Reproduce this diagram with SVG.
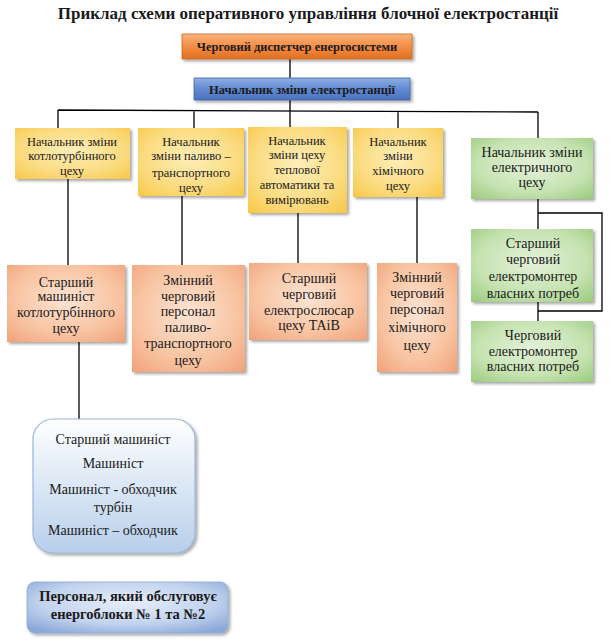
<svg xmlns="http://www.w3.org/2000/svg" width="614" height="640" viewBox="0 0 614 640">
<defs>
<linearGradient id="gOr" x1="0" y1="0" x2="0" y2="1"><stop offset="0" stop-color="#f9b27a"/><stop offset="0.5" stop-color="#f48d45"/><stop offset="1" stop-color="#e0701e"/></linearGradient>
<linearGradient id="gBl" x1="0" y1="0" x2="0" y2="1"><stop offset="0" stop-color="#8fb0e3"/><stop offset="0.5" stop-color="#6189d2"/><stop offset="1" stop-color="#4a73c0"/></linearGradient>
<radialGradient id="gYe" cx="0.5" cy="0.45" r="0.75"><stop offset="0" stop-color="#fdeeb8"/><stop offset="0.6" stop-color="#fbdb80"/><stop offset="1" stop-color="#f7c743"/></radialGradient>
<radialGradient id="gSa" cx="0.5" cy="0.45" r="0.75"><stop offset="0" stop-color="#fde4d3"/><stop offset="0.6" stop-color="#f8c3a1"/><stop offset="1" stop-color="#f0a077"/></radialGradient>
<radialGradient id="gGr" cx="0.5" cy="0.45" r="0.75"><stop offset="0" stop-color="#e4f1da"/><stop offset="0.6" stop-color="#c5e2b0"/><stop offset="1" stop-color="#99c97b"/></radialGradient>
<linearGradient id="gLb" x1="0" y1="0" x2="0" y2="1"><stop offset="0" stop-color="#ffffff"/><stop offset="1" stop-color="#b7cfeb"/></linearGradient>
<radialGradient id="gPb" cx="0.5" cy="0.4" r="0.7"><stop offset="0" stop-color="#e7eef9"/><stop offset="0.6" stop-color="#c2d3ee"/><stop offset="1" stop-color="#8aa8d8"/></radialGradient>
<filter id="sh" x="-10%" y="-10%" width="130%" height="140%"><feDropShadow dx="2" dy="2" stdDeviation="1.5" flood-color="#000" flood-opacity="0.35"/></filter>
</defs>
<style>
text{font-family:"Liberation Serif","DejaVu Serif",serif;fill:#1a1a1a;text-anchor:middle}
.title{font-size:17px;font-weight:bold}
.hd{font-size:12.5px;font-weight:bold}
.t1{font-size:12.5px}
.t2{font-size:14px}
.t3{font-size:14px}
.tb{font-size:14.5px;font-weight:bold}
.box{filter:url(#sh)}
.c{fill:none;stroke:#000;stroke-width:1.3}
</style>
<text class="title" x="308" y="19">Приклад схеми оперативного управління блочної електростанції</text>

<g id="connectors">
<path class="c" d="M290 59V78M290 100V111M58 110L538 112M58 110V128M194 110.5V128M290 111V127M398 111.5V128M538 112V138M68 179V265M182 196V265M298 213V263M417 197V263M538 199V229M538 302V321M538 213H602V311H538M79 342V419"/>
</g>

<g id="n-dispatcher"><rect class="box" x="182" y="34" width="230" height="25" fill="url(#gOr)" stroke="#c86a2a" stroke-width="0.8"/><text class="hd" x="297" y="51">Черговий диспетчер енергосистеми</text></g>
<g id="n-chief"><rect class="box" x="194" y="78" width="216" height="22" fill="url(#gBl)" stroke="#3d63a8" stroke-width="0.8"/><text class="hd" x="302" y="94">Начальник зміни електростанції</text></g>

<g id="n-ktc"><rect class="box" x="15" y="128" width="115" height="51" fill="url(#gYe)"/><text class="t1" x="72" y="146">Начальник зміни</text><text class="t1" x="72" y="160">котлотурбінного</text><text class="t1" x="72" y="175">цеху</text></g>
<g id="n-ptc"><rect class="box" x="138" y="128" width="106" height="68" fill="url(#gYe)"/><text class="t1" x="191" y="146">Начальник</text><text class="t1" x="191" y="160">зміни паливо –</text><text class="t1" x="191" y="177">транспортного</text><text class="t1" x="191" y="192">цеху</text></g>
<g id="n-tai"><rect class="box" x="248" y="127" width="99" height="86" fill="url(#gYe)"/><text class="t1" x="297" y="145">Начальник</text><text class="t1" x="297" y="159">зміни цеху</text><text class="t1" x="297" y="174">теплової</text><text class="t1" x="297" y="189">автоматики та</text><text class="t1" x="297" y="204">вимірювань</text></g>
<g id="n-hc"><rect class="box" x="353" y="128" width="90" height="69" fill="url(#gYe)"/><text class="t1" x="398" y="146">Начальник</text><text class="t1" x="398" y="160">зміни</text><text class="t1" x="398" y="175">хімічного</text><text class="t1" x="398" y="190">цеху</text></g>
<g id="n-ec"><rect class="box" x="471" y="138" width="122" height="61" fill="url(#gGr)"/><text class="t3" x="532" y="157">Начальник зміни</text><text class="t3" x="532" y="172">електричного</text><text class="t3" x="532" y="187">цеху</text></g>

<g id="n-sm"><rect class="box" x="7" y="265" width="118" height="77" fill="url(#gSa)"/><text class="t2" x="66" y="287">Старший</text><text class="t2" x="66" y="301">машиніст</text><text class="t2" x="66" y="317">котлотурбінного</text><text class="t2" x="66" y="333">цеху</text></g>
<g id="n-pp"><rect class="box" x="132" y="265" width="113" height="107" fill="url(#gSa)"/><text class="t2" x="188" y="285">Змінний</text><text class="t2" x="188" y="301">черговий</text><text class="t2" x="188" y="316">персонал</text><text class="t2" x="188" y="332">паливо-</text><text class="t2" x="188" y="348">транспортного</text><text class="t2" x="188" y="365">цеху</text></g>
<g id="n-es"><rect class="box" x="249" y="263" width="118" height="77" fill="url(#gSa)"/><text class="t2" x="309" y="283">Старший</text><text class="t2" x="309" y="299">черговий</text><text class="t2" x="309" y="315">електрослюсар</text><text class="t2" x="309" y="330">цеху ТАіВ</text></g>
<g id="n-hp"><rect class="box" x="377" y="263" width="80" height="109" fill="url(#gSa)"/><text class="t2" x="417" y="282">Змінний</text><text class="t2" x="417" y="298">черговий</text><text class="t2" x="417" y="314">персонал</text><text class="t2" x="417" y="332">хімічного</text><text class="t2" x="417" y="350">цеху</text></g>
<g id="n-sem"><rect class="box" x="471" y="229" width="122" height="73" fill="url(#gGr)"/><text class="t3" x="533" y="248">Старший</text><text class="t3" x="533" y="264">черговий</text><text class="t3" x="533" y="281">електромонтер</text><text class="t3" x="533" y="298">власних потреб</text></g>
<g id="n-em"><rect class="box" x="471" y="321" width="122" height="61" fill="url(#gGr)"/><text class="t3" x="533" y="340">Черговий</text><text class="t3" x="533" y="356">електромонтер</text><text class="t3" x="533" y="371">власних потреб</text></g>

<g id="n-machinists"><rect class="box" x="33" y="419" width="162" height="134" rx="20" fill="url(#gLb)" stroke="#9bb5da" stroke-width="1.2"/><text class="t3" x="113" y="444">Старший машиніст</text><text class="t3" x="113" y="468">Машиніст</text><text class="t3" x="113" y="494">Машиніст - обходчик</text><text class="t3" x="113" y="512">турбін</text><text class="t3" x="113" y="535">Машиніст – обходчик</text></g>
<g id="n-legend"><rect class="box" x="27" y="582" width="201" height="51" rx="8" fill="url(#gPb)" stroke="#8ea9d4" stroke-width="0.8"/><text class="tb" x="128" y="601">Персонал, який обслуговує</text><text class="tb" x="128" y="619">енергоблоки № 1 та №2</text></g>
</svg>
